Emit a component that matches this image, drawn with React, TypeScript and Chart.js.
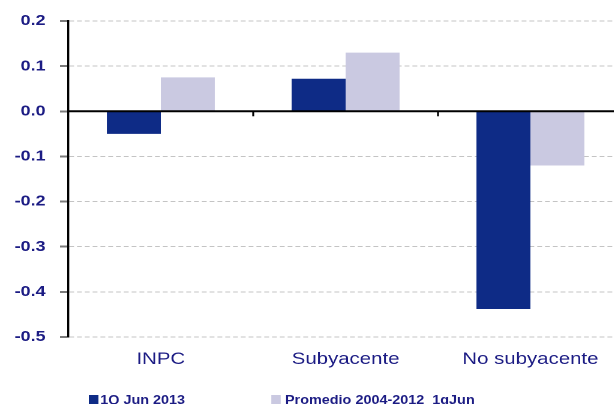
import React, { useEffect, useRef } from "react";
import { Chart, registerables } from "chart.js";

Chart.register(...registerables);

const categories = ["INPC", "Subyacente", "No subyacente"];
const seriesJun2013 = [-0.05, 0.072, -0.438];
const seriesPromedio = [0.075, 0.13, -0.12];
const seriesNames = ["1Q Jun 2013", "Promedio 2004-2012  1qJun"];
const yMin = -0.5;
const yMax = 0.2;
const yStep = 0.1;

const NAVY = "#1c1c84";
const BLUE = "#0e2b86";
const LAVENDER = "#cac9e1";
const SX = 1.2;

const zeroLinePlugin = {
  id: "zeroLine",
  afterDatasetsDraw(chart: any) {
    const { ctx, chartArea, scales } = chart;
    const y0 = scales.y.getPixelForValue(0);
    ctx.save();
    ctx.strokeStyle = "#000";
    ctx.lineWidth = 2;
    ctx.beginPath();
    ctx.moveTo(chartArea.left, y0);
    ctx.lineTo(chartArea.right, y0);
    ctx.stroke();
    ctx.lineWidth = 1.6;
    for (let i = 0; i < categories.length - 1; i++) {
      const xb = (scales.x.getPixelForValue(i) + scales.x.getPixelForValue(i + 1)) / 2;
      ctx.beginPath();
      ctx.moveTo(xb, y0);
      ctx.lineTo(xb, y0 + 5);
      ctx.stroke();
    }
    ctx.restore();
  },
};

export default function App() {
  const ref = useRef<HTMLCanvasElement | null>(null);
  useEffect(() => {
    if (!ref.current) return;
    const chart = new Chart(ref.current, {
      type: "bar",
      data: {
        labels: categories,
        datasets: [
          { label: seriesNames[0], data: seriesJun2013, backgroundColor: BLUE, borderWidth: 0 },
          { label: seriesNames[1], data: seriesPromedio, backgroundColor: LAVENDER, borderWidth: 0 },
        ],
      },
      plugins: [zeroLinePlugin],
      options: {
        animation: false,
        responsive: true,
        maintainAspectRatio: false,
        devicePixelRatio: 2,
        layout: { padding: { top: 19, right: 0, bottom: 0, left: 0 } },
        plugins: { legend: { display: false }, tooltip: { enabled: false } },
        datasets: { bar: { categoryPercentage: 0.584, barPercentage: 1.0 } },
        scales: {
          x: {
            grid: { display: false, drawTicks: false },
            border: { display: false },
            ticks: {
              color: NAVY,
              font: { family: "Liberation Sans, Arial, sans-serif", size: 17 },
              padding: 12,
            },
            afterFit: (s: any) => {
              s.height = 67;
            },
          },
          y: {
            min: yMin,
            max: yMax,
            grid: {
              color: "#c4c4c4",
              lineWidth: 1,
              drawTicks: true,
              tickLength: 7,
              tickColor: "#7a7a7a",
              tickWidth: 2,
              tickBorderDash: [],
            },
            border: { display: true, color: "#000", width: 1.7, dash: [4, 2.5] },
            ticks: {
              stepSize: yStep,
              color: NAVY,
              padding: 12,
              font: { family: "Liberation Sans, Arial, sans-serif", size: 15, weight: "bold" },
              callback: (v: any) => {
                const n = Math.abs(Number(v)) < 1e-9 ? 0 : Number(v);
                return n.toFixed(1);
              },
            },
            afterFit: (s: any) => {
              s.width = 57;
            },
          },
        },
      } as any,
    });
    return () => chart.destroy();
  }, []);

  const legendText: React.CSSProperties = {
    position: "absolute",
    top: 393,
    fontFamily: "Liberation Sans, Arial, sans-serif",
    fontWeight: "bold",
    fontSize: 12,
    lineHeight: "14px",
    color: NAVY,
    whiteSpace: "pre",
  };
  const box: React.CSSProperties = { position: "absolute", top: 395, width: 8.4, height: 10 };

  return (
    <div style={{ position: "fixed", left: 0, top: 0, width: 614, height: 404, overflow: "hidden", background: "#fff" }}>
      <div style={{ position: "absolute", left: 0, top: 0, width: 519, height: 404, transform: `scaleX(${SX})`, transformOrigin: "0 0" }}>
        <div style={{ position: "absolute", left: 0, top: 0, width: 519, height: 404 }}>
          <canvas ref={ref} />
        </div>
        <div style={{ ...box, left: 73.5, background: BLUE }} />
        <div style={{ ...legendText, left: 83.5 }}>{seriesNames[0]}</div>
        <div style={{ ...box, left: 226, background: LAVENDER }} />
        <div style={{ ...legendText, left: 237.5 }}>{seriesNames[1]}</div>
      </div>
    </div>
  );
}
